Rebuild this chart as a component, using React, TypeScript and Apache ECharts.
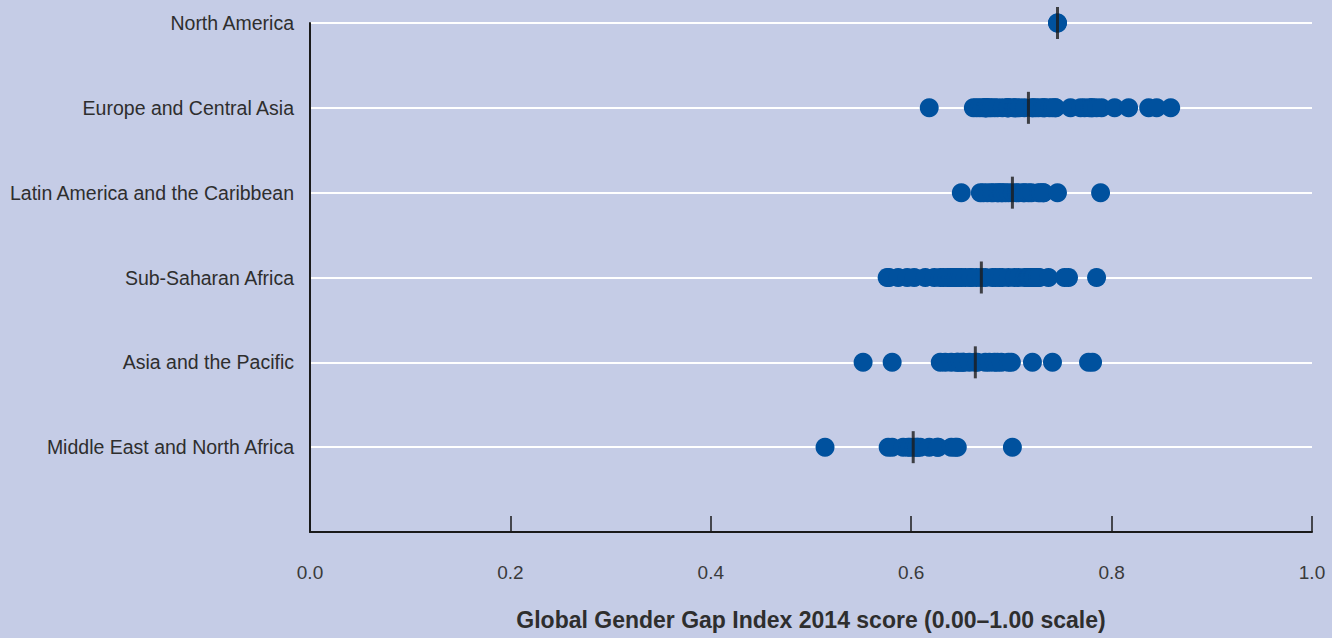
import React, { useEffect, useRef } from "react";
import * as echarts from "echarts";

// Regions, bottom (1) to top (6)
const regions = [
  "Middle East and North Africa",
  "Asia and the Pacific",
  "Sub-Saharan Africa",
  "Latin America and the Caribbean",
  "Europe and Central Asia",
  "North America",
];

// Global Gender Gap Index 2014 scores per country, by region
const middleEastNorthAfrica = [
  0.514, 0.577, 0.581, 0.592, 0.597, 0.599, 0.603, 0.606, 0.606, 0.609, 0.618,
  0.626, 0.627, 0.64, 0.644, 0.646, 0.701,
];
const asiaPacific = [
  0.552, 0.581, 0.629, 0.634, 0.64, 0.646, 0.646, 0.649, 0.652, 0.652, 0.658,
  0.664, 0.666, 0.674, 0.678, 0.683, 0.686, 0.69, 0.697, 0.7, 0.721, 0.741,
  0.777, 0.781,
];
const subSaharanAfrica = [
  0.576, 0.578, 0.587, 0.596, 0.603, 0.614, 0.623, 0.629, 0.632, 0.636, 0.639,
  0.64, 0.643, 0.645, 0.648, 0.65, 0.654, 0.659, 0.66, 0.665, 0.67, 0.674,
  0.681, 0.684, 0.688, 0.691, 0.697, 0.703, 0.707, 0.713, 0.716, 0.717, 0.718,
  0.721, 0.722, 0.726, 0.726, 0.728, 0.737, 0.753, 0.757, 0.785,
];
const latinAmericaCaribbean = [
  0.65, 0.669, 0.672, 0.676, 0.68, 0.682, 0.686, 0.687, 0.69, 0.691, 0.694,
  0.697, 0.701, 0.705, 0.707, 0.712, 0.713, 0.717, 0.72, 0.727, 0.729, 0.732,
  0.732, 0.746, 0.789,
];
const europeCentralAsia = [
  0.618, 0.662, 0.665, 0.668, 0.671, 0.674, 0.674, 0.674, 0.675, 0.676, 0.678,
  0.68, 0.683, 0.686, 0.691, 0.696, 0.696, 0.697, 0.697, 0.702, 0.703, 0.705,
  0.708, 0.713, 0.721, 0.721, 0.724, 0.727, 0.731, 0.733, 0.733, 0.738, 0.741,
  0.744, 0.744, 0.759, 0.769, 0.773, 0.778, 0.78, 0.781, 0.785, 0.79, 0.803,
  0.817, 0.837, 0.845, 0.859,
];
const northAmerica = [0.746, 0.746];

// Regional medians, same order as regions
const medians = [0.602, 0.664, 0.67, 0.701, 0.717, 0.746];

const xTicks = [0, 0.2, 0.4, 0.6, 0.8, 1.0];

const regionValues = [
  middleEastNorthAfrica,
  asiaPacific,
  subSaharanAfrica,
  latinAmericaCaribbean,
  europeCentralAsia,
  northAmerica,
];

const FONT = '"Liberation Sans", Arial, sans-serif';

export default function App() {
  const ref = useRef<HTMLDivElement>(null);
  useEffect(() => {
    if (!ref.current) return;
    const chart = echarts.init(ref.current, undefined, { renderer: "svg" });
    const dots: number[][] = [];
    regionValues.forEach((vals, i) => vals.forEach((v) => dots.push([v, i + 1])));
    const med = medians.map((m, i) => [m, i + 1]);
    chart.setOption({
      animation: false,
      backgroundColor: "#c5cce6",
      grid: {
        left: 310,
        right: 20,
        top: 23,
        bottom: 106,
        containLabel: false,
        outerBoundsMode: "none",
      },
      xAxis: {
        type: "value",
        min: xTicks[0],
        max: xTicks[xTicks.length - 1],
        interval: 0.2,
        name: "Global Gender Gap Index 2014 score (0.00–1.00 scale)",
        nameLocation: "middle",
        nameGap: 76,
        nameTextStyle: {
          fontFamily: FONT,
          fontSize: 23,
          fontWeight: "bold",
          color: "#2e2e2e",
        },
        axisLine: { show: true, lineStyle: { color: "#1a1a1a", width: 2 } },
        axisTick: { show: true, inside: true, length: 16, lineStyle: { color: "#1a1a1a", width: 1.5 } },
        axisLabel: {
          formatter: (v: number) => v.toFixed(1),
          fontFamily: FONT,
          fontSize: 19,
          color: "#3a3a3a",
          margin: 31,
        },
        splitLine: { show: false },
      },
      yAxis: {
        type: "value",
        min: 0,
        max: 6,
        interval: 1,
        axisLine: { show: true, lineStyle: { color: "#1a1a1a", width: 2 } },
        axisTick: { show: false },
        axisLabel: {
          formatter: (v: number) => (v >= 1 ? regions[v - 1] : ""),
          fontFamily: FONT,
          fontSize: 19.5,
          color: "#2e2e2e",
          margin: 16,
          padding: [0, 0, 6, 0],
        },
        splitLine: { show: true, lineStyle: { color: "#ffffff", width: 2 } },
      },
      series: [
        {
          type: "scatter",
          data: dots,
          symbol: "circle",
          symbolSize: 19,
          itemStyle: { color: "#00519e", opacity: 1 },
          z: 2,
        },
        {
          type: "scatter",
          data: med,
          symbol: "rect",
          symbolSize: [3, 32],
          itemStyle: { color: "#1c1c1c" },
          z: 3,
        },
      ],
    });
    return () => chart.dispose();
  }, []);
  return (
    <div
      ref={ref}
      style={{ position: "fixed", left: 0, top: 0, width: 1332, height: 638 }}
    />
  );
}
